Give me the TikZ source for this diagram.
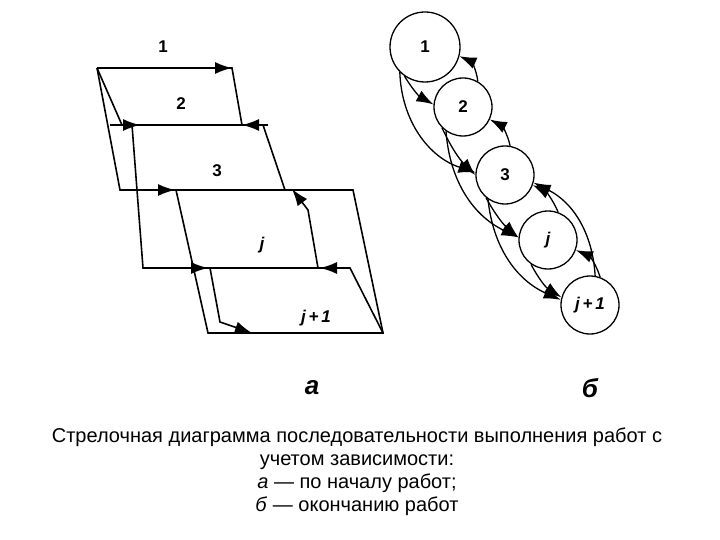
\documentclass[tikz,border=0pt]{standalone}
\usepackage{fontspec}
\setmainfont{Liberation Sans}
\usetikzlibrary{arrows.meta}
\begin{document}
\begin{tikzpicture}[x=1pt,y=-1pt,line width=1.6pt,
  ar/.style={-{Latex[length=17pt,width=12pt]}},
  st/.style={circle,draw,line width=1.3pt,minimum size=58pt,inner sep=0pt,font=\bfseries\fontsize{17pt}{20pt}\selectfont},
  lb/.style={font=\bfseries\fontsize{17pt}{20pt}\selectfont}]
\useasboundingbox (0,0) rectangle (720,540);
% left diagram
\draw (97,68)--(232,68)--(242,125);
\draw (122,125)--(263,125)--(285,190);
\draw (97,68)--(122,125);
\draw (97,68)--(120,190)--(353,190)--(383,333)--(208,333)--(176,190);
\draw (132,125)--(143,268)--(350,268)--(383,333);
\draw[ar] (318,268)--(308,210)--(292,189);
\draw[ar] (210,268)--(220,322)--(252,333);
\draw[ar] (200,68)--(232,68);
\draw[ar] (110,125)--(140,125);
\draw[ar] (268,125)--(242,125);
\draw[ar] (145,190)--(175,190);
\draw[ar] (180,268)--(208,268);
\draw[ar] (350,268)--(320,268);
\node[lb] (l1) at (163,47) {1};
\node[lb] (l2) at (181,104) {2};
\node[lb] (l3) at (217,171) {3};
\node[lb] (lj) at (262,245) {\itshape j};
\node[lb] (lj1) at (316,318) {\itshape j\,+\,1};
% right graph
\node[st,minimum size=70pt] (c1) at (425,47) {1};
\node[st] (c2) at (463,107) {2};
\node[st] (c3) at (505,175) {3};
\node[st] (cj) at (548,240) {\itshape j};
\node[st] (cj1) at (590,305) {\itshape j\,+\,1};
\begin{scope}[line width=1.3pt]
\draw[ar] (c1.235) to[bend right=15] (c2.175);
\draw[ar] (c2.60) to[bend right=30] (c1.-15);
\draw[ar] (c1.225) to[bend right=35] (c3.175);
\draw[ar] (c2.225) to[bend right=10] (c3.180);
\draw[ar] (c3.80) to[bend right=25] (c2.-25);
\draw[ar] (c2.235) to[bend right=30] (cj.175);
\draw[ar] (c3.230) to[bend right=10] (cj.175);
\draw[ar] (cj.70) to[bend right=20] (c3.-20);
\draw[ar] (c3.235) to[bend right=30] (cj1.170);
\draw[ar] (cj.235) to[bend right=15] (cj1.165);
\draw[ar] (cj1.70) to[bend right=25] (cj.-20);
\draw[ar] (cj1.80) to[bend right=30] (c3.-15);
\end{scope}
\node[font=\bfseries\itshape\fontsize{26pt}{30pt}\selectfont] (a) at (312,388) {а};
\node[font=\bfseries\itshape\fontsize{26pt}{30pt}\selectfont] (b) at (590,388) {б};
\node[align=center,font=\fontsize{20pt}{23pt}\selectfont] (cap) at (357,472)
 {Стрелочная диаграмма последовательности выполнения работ с\\учетом зависимости:\\\textit{а} — по началу работ;\\\textit{б} — окончанию работ};
\end{tikzpicture}
\end{document}
